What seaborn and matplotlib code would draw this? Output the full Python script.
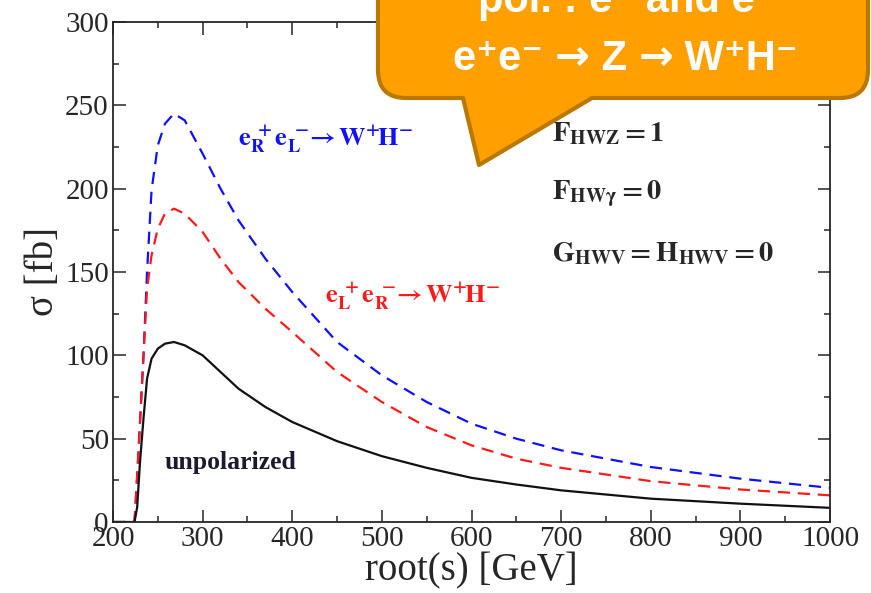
import numpy as np
import pandas as pd
import matplotlib
matplotlib.use('Agg')
import matplotlib.pyplot as plt
from matplotlib.path import Path
from matplotlib.patches import PathPatch
from matplotlib.transforms import offset_copy
import seaborn as sns

## values
sqrt_s = [200, 224, 227, 230, 234, 238, 243, 250, 258, 268, 280, 300, 320, 340,
          370, 400, 450, 500, 550, 600, 650, 700, 800, 900, 1000]
# e_R+ e_L- -> W+H-  (blue dashed)
sigma_RL = [0, 0, 28, 59, 100, 150, 199, 226, 239, 245, 241, 221, 200, 181,
            158, 138, 108, 88, 72, 59, 50, 43, 33, 26, 20.5]
# e_L+ e_R- -> W+H-  (red dashed)
sigma_LR = [0, 0, 28, 58, 99, 140, 160, 176, 185, 188, 185, 174, 158, 144,
            128, 114, 90, 72, 57, 46, 38, 32.5, 24.5, 19.5, 16]
# unpolarized (black solid)
sigma_unpol = [0, 0, 9, 35, 62, 86, 98, 104, 107, 108, 106, 100, 90, 80,
               69, 60, 48.5, 39.5, 32.5, 26.5, 22.5, 19, 14, 11, 8.5]

x_ticks = [200, 300, 400, 500, 600, 700, 800, 900, 1000]
y_ticks = [0, 50, 100, 150, 200, 250, 300]

curves = pd.DataFrame({'sqrt_s': sqrt_s, 'RL': sigma_RL,
                       'LR': sigma_LR, 'unpol': sigma_unpol})

sns.set_style('ticks')
plt.rcParams['font.family'] = ['Liberation Serif', 'DejaVu Serif']
plt.rcParams['mathtext.fontset'] = 'stix'

W, H = 871, 593
fig = plt.figure(figsize=(W / 100, H / 100), dpi=100)
ax = fig.add_axes([113 / W, 1 - 522 / H, 717 / W, 500 / H])

dash = (0, (5.5, 3.5))
sns.lineplot(data=curves, x='sqrt_s', y='RL', color='#1010ff', lw=1.6,
             linestyle=dash, errorbar=None, ax=ax)
sns.lineplot(data=curves, x='sqrt_s', y='LR', color='#ff1a1a', lw=1.6,
             linestyle=dash, errorbar=None, ax=ax)
sns.lineplot(data=curves, x='sqrt_s', y='unpol', color='#111111', lw=1.6,
             errorbar=None, ax=ax)

ax.set_xlim(200, 1000)
ax.set_ylim(0, 300)
ax.set_xticks(x_ticks)
ax.set_yticks(y_ticks)
ax.set_xticks(np.arange(250, 1000, 100), minor=True)
ax.set_yticks(np.arange(25, 300, 50), minor=True)
ax.tick_params(which='both', direction='in', top=True, right=True,
               labelsize=21, width=1.1, pad=3)
ax.tick_params(which='major', length=9)
ax.tick_params(which='minor', length=4.5)
for s in ax.spines.values():
    s.set_linewidth(1.3)

ax.set_xlabel('root(s) [GeV]', fontsize=28, labelpad=0)
ax.set_ylabel('σ [fb]', fontsize=28, labelpad=2)

## annotations
ax.text(258, 36, 'unpolarized', fontsize=18.5, fontweight='bold',
        color='#1a1a2e', va='center')
ax.text(339, 229, r'$\mathbf{e_R^{\ +}e_L^{\ -}\!\!\rightarrow W^{+}\!H^{-}}$',
        fontsize=19, color='#1010ff', va='center')
ax.text(436, 135, r'$\mathbf{e_L^{\ +}e_R^{\ -}\!\!\rightarrow W^{+}\!H^{-}}$',
        fontsize=19, color='#ff1a1a', va='center')
ax.text(690, 233, r'$\mathbf{F_{HWZ} = 1}$', fontsize=20.5, va='center')
ax.text(690, 197, r'$\mathbf{F_{HW\gamma} = 0}$', fontsize=20.5, va='center')
ax.text(690, 161, r'$\mathbf{G_{HWV} = H_{HWV} = 0}$', fontsize=20.5, va='center')

## orange speech bubble (pixel coords, y down)
r = 28
pts = [(378, -40), (378, 98 - r), (378, 98), (378 + r, 98), (463, 98),
       (479, 165), (592, 98), (868 - r, 98), (868, 98), (868, 98 - r),
       (868, -40), (378, -40)]
codes = [Path.MOVETO, Path.LINETO, Path.CURVE3, Path.CURVE3, Path.LINETO,
         Path.LINETO, Path.LINETO, Path.LINETO, Path.CURVE3, Path.CURVE3,
         Path.LINETO, Path.CLOSEPOLY]
verts = [(px / W, 1 - py / H) for px, py in pts]
bubble = PathPatch(Path(verts, codes), transform=fig.transFigure,
                   facecolor='#ffa000', edgecolor='#b97800', lw=3,
                   joinstyle='round', clip_on=False, zorder=10)
fig.patches.append(bubble)

sans = ['Liberation Sans', 'DejaVu Sans']
fig.text(627 / W, 1 - 12 / H, 'pol. : e⁻ and e⁺', family=sans,
         fontweight='bold', fontsize=30, color='white', ha='center',
         va='baseline', zorder=11)

# second line: pieces laid out left to right, bigger arrows from DejaVu
pieces = [('e⁺e⁻ ', sans), ('→', ['DejaVu Sans']), (' Z ', sans),
          ('→', ['DejaVu Sans']), (' W⁺H⁻', sans)]
renderer = fig.canvas.get_renderer()
x0 = 453
for txt, fam in pieces:
    t = fig.text(x0 / W, 1 - 70 / H, txt, family=fam, fontweight='bold',
                 fontsize=30, color='white', ha='left', va='baseline',
                 zorder=11)
    bb = t.get_window_extent(renderer=renderer)
    x0 += bb.width

fig.savefig('out.png', dpi=100)
